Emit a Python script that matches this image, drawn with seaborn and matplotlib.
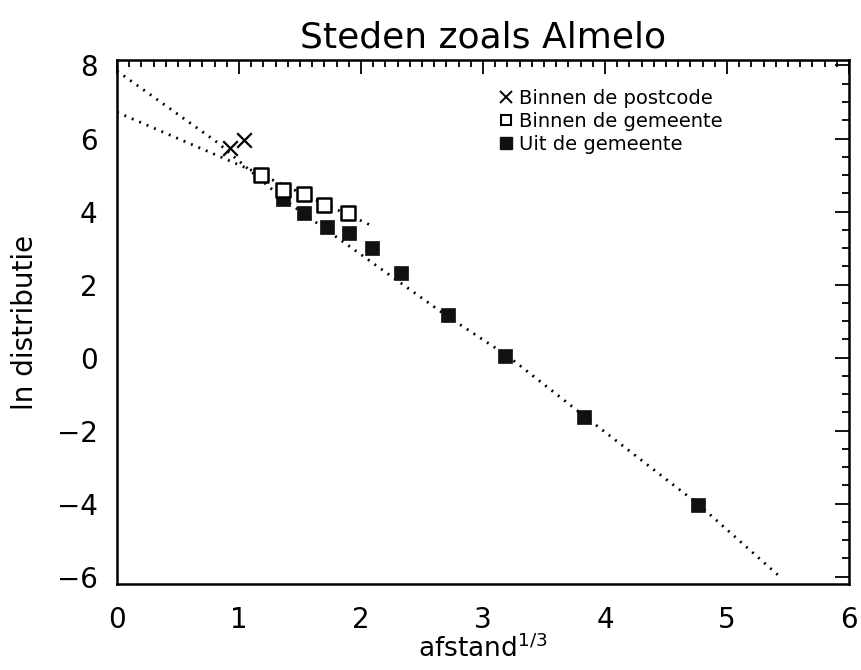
import numpy as np
import pandas as pd
import seaborn as sns
import matplotlib
matplotlib.use("Agg")
import matplotlib.pyplot as plt
from matplotlib.ticker import MultipleLocator
from matplotlib.lines import Line2D

title = "Steden zoals Almelo"
x_label = "afstand$^{1/3}$"
y_label = "ln distributie"
series_names = ["Binnen de postcode", "Binnen de gemeente", "Uit de gemeente"]

postcode_x = [0.93, 1.04]
postcode_y = [5.75, 5.97]
gemeente_x = [1.18, 1.36, 1.53, 1.70, 1.89]
gemeente_y = [4.99, 4.60, 4.47, 4.19, 3.97]
uit_x = [1.36, 1.53, 1.72, 1.90, 2.09, 2.33, 2.71, 3.18, 3.83, 4.76]
uit_y = [4.33, 3.97, 3.59, 3.42, 3.01, 2.33, 1.18, 0.05, -1.62, -4.05]

fit_near_x = [0.0, 1.11, 2.11]
fit_near_y = [6.72, 5.12, 3.58]
fit_all_x = [0.0, 0.82, 1.36, 2.70, 3.20, 3.83, 4.76, 5.45]
fit_all_y = [7.85, 5.90, 4.35, 1.15, 0.05, -1.60, -4.00, -6.05]

x_ticks = [0, 1, 2, 3, 4, 5, 6]
y_ticks = [-6, -4, -2, 0, 2, 4, 6, 8]

sns.set_theme(style="white")
plt.rcParams["font.family"] = ["DejaVu Sans"]
plt.rcParams["text.color"] = "black"
plt.rcParams["axes.labelcolor"] = "black"
plt.rcParams["xtick.color"] = "black"
plt.rcParams["ytick.color"] = "black"

fig = plt.figure(figsize=(8.62, 6.70), dpi=100)
ax = fig.add_axes([117 / 862, 1 - 584 / 670, 732 / 862, 524 / 670])

df_near = pd.DataFrame({"x": fit_near_x, "y": fit_near_y})
df_all = pd.DataFrame({"x": fit_all_x, "y": fit_all_y})
sns.lineplot(data=df_near, x="x", y="y", ax=ax, color="black", lw=2.0,
             linestyle=(0, (0.7, 2.2)), sort=False, estimator=None)
sns.lineplot(data=df_all, x="x", y="y", ax=ax, color="black", lw=2.0,
             linestyle=(0, (0.7, 2.2)), sort=False, estimator=None)

df_pc = pd.DataFrame({"x": postcode_x, "y": postcode_y})
df_gm = pd.DataFrame({"x": gemeente_x, "y": gemeente_y})
df_uit = pd.DataFrame({"x": uit_x, "y": uit_y})
sns.scatterplot(data=df_pc, x="x", y="y", ax=ax, marker="x", color="black",
                s=110, linewidth=1.6, zorder=3)
sns.scatterplot(data=df_uit, x="x", y="y", ax=ax, marker="s", color="#111111",
                edgecolor="#111111", s=105, linewidth=0.5, zorder=3)
sns.scatterplot(data=df_gm, x="x", y="y", ax=ax, marker="s", facecolor="white",
                edgecolor="black", s=105, linewidth=1.8, zorder=4)

ax.set_xlim(0, 6)
ax.set_ylim(-6.2, 8.15)
ax.set_xticks(x_ticks)
ax.set_yticks(y_ticks)
ax.set_xticklabels([str(v) for v in x_ticks])
ax.set_yticklabels([str(v).replace("-", "\u2212") for v in y_ticks])
ax.xaxis.set_minor_locator(MultipleLocator(0.1))
ax.yaxis.set_minor_locator(MultipleLocator(0.5))
ax.tick_params(which="both", direction="in", top=True, right=True,
               color="black", width=1.3)
ax.tick_params(which="major", length=10, labelsize=20, pad=14)
ax.tick_params(which="minor", length=5)
ax.tick_params(axis="x", which="major", pad=16)
for sp in ax.spines.values():
    sp.set_color("black")
    sp.set_linewidth(1.8)

ax.set_title(title, fontsize=26, pad=9, color="black")
ax.set_xlabel(x_label, fontsize=19, labelpad=0)
ax.set_ylabel(y_label, fontsize=20, labelpad=13)

handles = [
    Line2D([], [], marker="x", color="black", linestyle="none", markersize=8, mew=1.4),
    Line2D([], [], marker="s", markerfacecolor="white", markeredgecolor="black",
           linestyle="none", markersize=7, mew=1.5),
    Line2D([], [], marker="s", color="#111111", linestyle="none", markersize=8),
]
ax.legend(handles, series_names, loc="upper left", bbox_to_anchor=(0.522, 0.945),
          frameon=False, fontsize=14, handlelength=0.7, handletextpad=0.3,
          labelspacing=0.2, borderpad=0, borderaxespad=0)

fig.savefig("out.png", dpi=100)
